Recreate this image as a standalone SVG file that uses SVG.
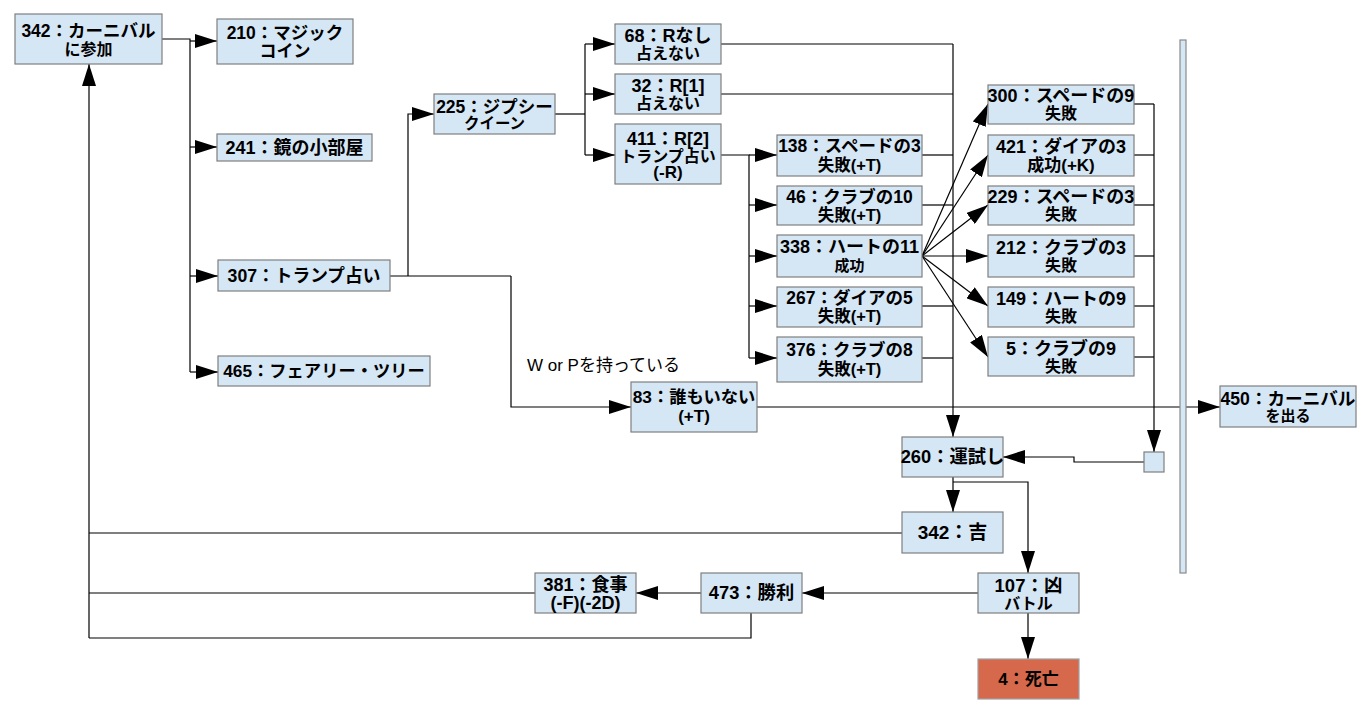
<svg xmlns="http://www.w3.org/2000/svg" width="1368" height="720" viewBox="0 0 1368 720">
<defs>
<style>
.n{fill:#d5e6f4;stroke:#7f7f7f;stroke-width:1.2}
.d{fill:#d6694b;stroke:#a0a0a0;stroke-width:1.2}
.bar{fill:#d5e6f4;stroke:#8a8a8a;stroke-width:1.2}
text{font-family:"Liberation Sans","Noto Sans CJK JP",sans-serif;font-weight:bold;fill:#000;text-anchor:middle}
.lbl{font-weight:normal;text-anchor:start;font-size:17px}
.c path{fill:none;stroke:#000;stroke-width:1.2}
.c path.a{marker-end:url(#ah)}
</style>
<marker id="ah" markerUnits="userSpaceOnUse" markerWidth="22" markerHeight="14" refX="22" refY="7" orient="auto" viewBox="0 0 22 14">
<path d="M0,0 L22,7 L0,14 Z" fill="#000"/>
</marker>
</defs>
<rect width="1368" height="720" fill="#fff"/>

<g class="c" id="connectors">
<path d="M162,39 H190 V372"/>
<path class="a" d="M190,41 H217"/>
<path class="a" d="M190,147 H217"/>
<path class="a" d="M190,276 H218"/>
<path class="a" d="M190,372 H218"/>
<path d="M390,276 H511"/>
<path class="a" d="M408,276 V114 H434"/>
<path class="a" d="M511,276 V407 H631"/>
<path d="M555,114 H585"/>
<path d="M585,44 V155"/>
<path class="a" d="M585,44 H615"/>
<path class="a" d="M585,94 H615"/>
<path class="a" d="M585,155 H615"/>
<path d="M721,155 H749 V358"/>
<path class="a" d="M749,155 H777"/>
<path class="a" d="M749,205 H777"/>
<path class="a" d="M749,256 H777"/>
<path class="a" d="M749,306 H777"/>
<path class="a" d="M749,358 H777"/>
<path d="M721,44 H953"/>
<path d="M721,94 H953"/>
<path d="M922,155 H953"/>
<path d="M922,205 H953"/>
<path d="M922,306 H953"/>
<path d="M922,358 H953"/>
<path class="a" d="M953,44 V437"/>
<path class="a" d="M922,256 L988,104"/>
<path class="a" d="M922,256 L988,155"/>
<path class="a" d="M922,256 L988,205"/>
<path class="a" d="M922,256 L988,256"/>
<path class="a" d="M922,256 L988,306"/>
<path class="a" d="M922,256 L988,357"/>
<path d="M1134,104 H1154"/>
<path d="M1134,155 H1154"/>
<path d="M1134,205 H1154"/>
<path d="M1134,256 H1154"/>
<path d="M1134,306 H1154"/>
<path d="M1134,357 H1154"/>
<path class="a" d="M1154,104 V452"/>
<path class="a" d="M757,407 H1220"/>
<path class="a" d="M1144,462 H1074 V457 H1003"/>
<path class="a" d="M953,477 V512"/>
<path class="a" d="M953,482 H1028 V573"/>
<path class="a" d="M1028,613 V659"/>
<path class="a" d="M978,593 H802"/>
<path class="a" d="M701,593 H636"/>
<path d="M902,533 H89"/>
<path d="M535,593 H89"/>
<path d="M751,613 V638 H89"/>
<path class="a" d="M89,638 V64"/>
</g>

<g id="bar"><rect class="bar" x="1180" y="40" width="6" height="533"/></g>

<g id="n342a"><rect class="n" x="15" y="14" width="147" height="50"/><text x="88.5" y="37" font-size="17.5">342：カーニバル</text><text x="88.5" y="55" font-size="16">に参加</text></g>
<g id="n210"><rect class="n" x="217" y="19" width="136" height="45"/><text x="285" y="39" font-size="17.5">210：マジック</text><text x="285" y="57" font-size="17">コイン</text></g>
<g id="n241"><rect class="n" x="217" y="134" width="155" height="27"/><text x="294.5" y="154" font-size="18">241：鏡の小部屋</text></g>
<g id="n307"><rect class="n" x="218" y="260" width="172" height="31"/><text x="304" y="282" font-size="17.7">307：トランプ占い</text></g>
<g id="n465"><rect class="n" x="218" y="356" width="212" height="30"/><text x="324" y="377" font-size="17.3">465：フェアリー・ツリー</text></g>
<g id="n225"><rect class="n" x="434" y="94" width="121" height="40"/><text x="494.5" y="113" font-size="17.5">225：ジプシー</text><text x="494.5" y="129" font-size="15.5">クイーン</text></g>
<g id="n68"><rect class="n" x="615" y="24" width="106" height="40"/><text x="668" y="42" font-size="18">68：Rなし</text><text x="668" y="59" font-size="16">占えない</text></g>
<g id="n32"><rect class="n" x="615" y="74" width="106" height="40"/><text x="668" y="92" font-size="18">32：R[1]</text><text x="668" y="109" font-size="16">占えない</text></g>
<g id="n411"><rect class="n" x="615" y="124" width="106" height="60"/><text x="668" y="145" font-size="18">411：R[2]</text><text x="668" y="162" font-size="16">トランプ占い</text><text x="668" y="178" font-size="17">(-R)</text></g>
<g id="n138"><rect class="n" x="777" y="135" width="145" height="41"/><text x="849.5" y="152" font-size="17.5">138：スペードの3</text><text x="849.5" y="171" font-size="16.5">失敗(+T)</text></g>
<g id="n46"><rect class="n" x="777" y="186" width="145" height="39"/><text x="849.5" y="203" font-size="17.5">46：クラブの10</text><text x="849.5" y="221" font-size="16.5">失敗(+T)</text></g>
<g id="n338"><rect class="n" x="777" y="235" width="145" height="42"/><text x="849.5" y="253" font-size="18">338：ハートの11</text><text x="849.5" y="271" font-size="15">成功</text></g>
<g id="n267"><rect class="n" x="777" y="287" width="145" height="40"/><text x="849.5" y="304" font-size="17.5">267：ダイアの5</text><text x="849.5" y="322" font-size="16.5">失敗(+T)</text></g>
<g id="n376"><rect class="n" x="777" y="337" width="145" height="45"/><text x="849.5" y="356" font-size="17.5">376：クラブの8</text><text x="849.5" y="375" font-size="16.5">失敗(+T)</text></g>
<g id="n300"><rect class="n" x="988" y="85" width="146" height="39"/><text x="1061" y="102" font-size="18">300：スペードの9</text><text x="1061" y="119" font-size="16">失敗</text></g>
<g id="n421"><rect class="n" x="988" y="135" width="146" height="41"/><text x="1061" y="153" font-size="18">421：ダイアの3</text><text x="1061" y="171" font-size="17">成功(+K)</text></g>
<g id="n229"><rect class="n" x="988" y="186" width="146" height="39"/><text x="1061" y="203" font-size="18">229：スペードの3</text><text x="1061" y="220" font-size="16">失敗</text></g>
<g id="n212"><rect class="n" x="988" y="235" width="146" height="42"/><text x="1061" y="254" font-size="18">212：クラブの3</text><text x="1061" y="271" font-size="16">失敗</text></g>
<g id="n149"><rect class="n" x="988" y="287" width="146" height="40"/><text x="1061" y="305" font-size="18">149：ハートの9</text><text x="1061" y="322" font-size="16">失敗</text></g>
<g id="n5"><rect class="n" x="988" y="337" width="146" height="39"/><text x="1061" y="355" font-size="18">5：クラブの9</text><text x="1061" y="372" font-size="16">失敗</text></g>
<g id="n83"><rect class="n" x="631" y="382" width="126" height="50"/><text x="694" y="403" font-size="17.3">83：誰もいない</text><text x="694" y="422" font-size="17">(+T)</text></g>
<g id="n450"><rect class="n" x="1220" y="386" width="136" height="41"/><text x="1288" y="405" font-size="17.6">450：カーニバル</text><text x="1288" y="421" font-size="15">を出る</text></g>
<g id="n260"><rect class="n" x="902" y="437" width="101" height="40"/><text x="952.5" y="463" font-size="18.3">260：運試し</text></g>
<g id="nsq"><rect class="n" x="1144" y="452" width="20" height="20"/></g>
<g id="n342b"><rect class="n" x="902" y="512" width="101" height="41"/><text x="952.5" y="539" font-size="19">342：吉</text></g>
<g id="n107"><rect class="n" x="978" y="573" width="101" height="40"/><text x="1028.5" y="592" font-size="18.5">107：凶</text><text x="1028.5" y="609" font-size="16">バトル</text></g>
<g id="n473"><rect class="n" x="701" y="573" width="101" height="40"/><text x="751.5" y="599" font-size="18.3">473：勝利</text></g>
<g id="n381"><rect class="n" x="535" y="573" width="101" height="40"/><text x="585.5" y="591" font-size="18">381：食事</text><text x="585.5" y="609" font-size="18">(-F)(-2D)</text></g>
<g id="n4"><rect class="d" x="978" y="659" width="101" height="40"/><text x="1028.5" y="685" font-size="17">4：死亡</text></g>

<text class="lbl" x="527" y="371">W or Pを持っている</text>
</svg>
